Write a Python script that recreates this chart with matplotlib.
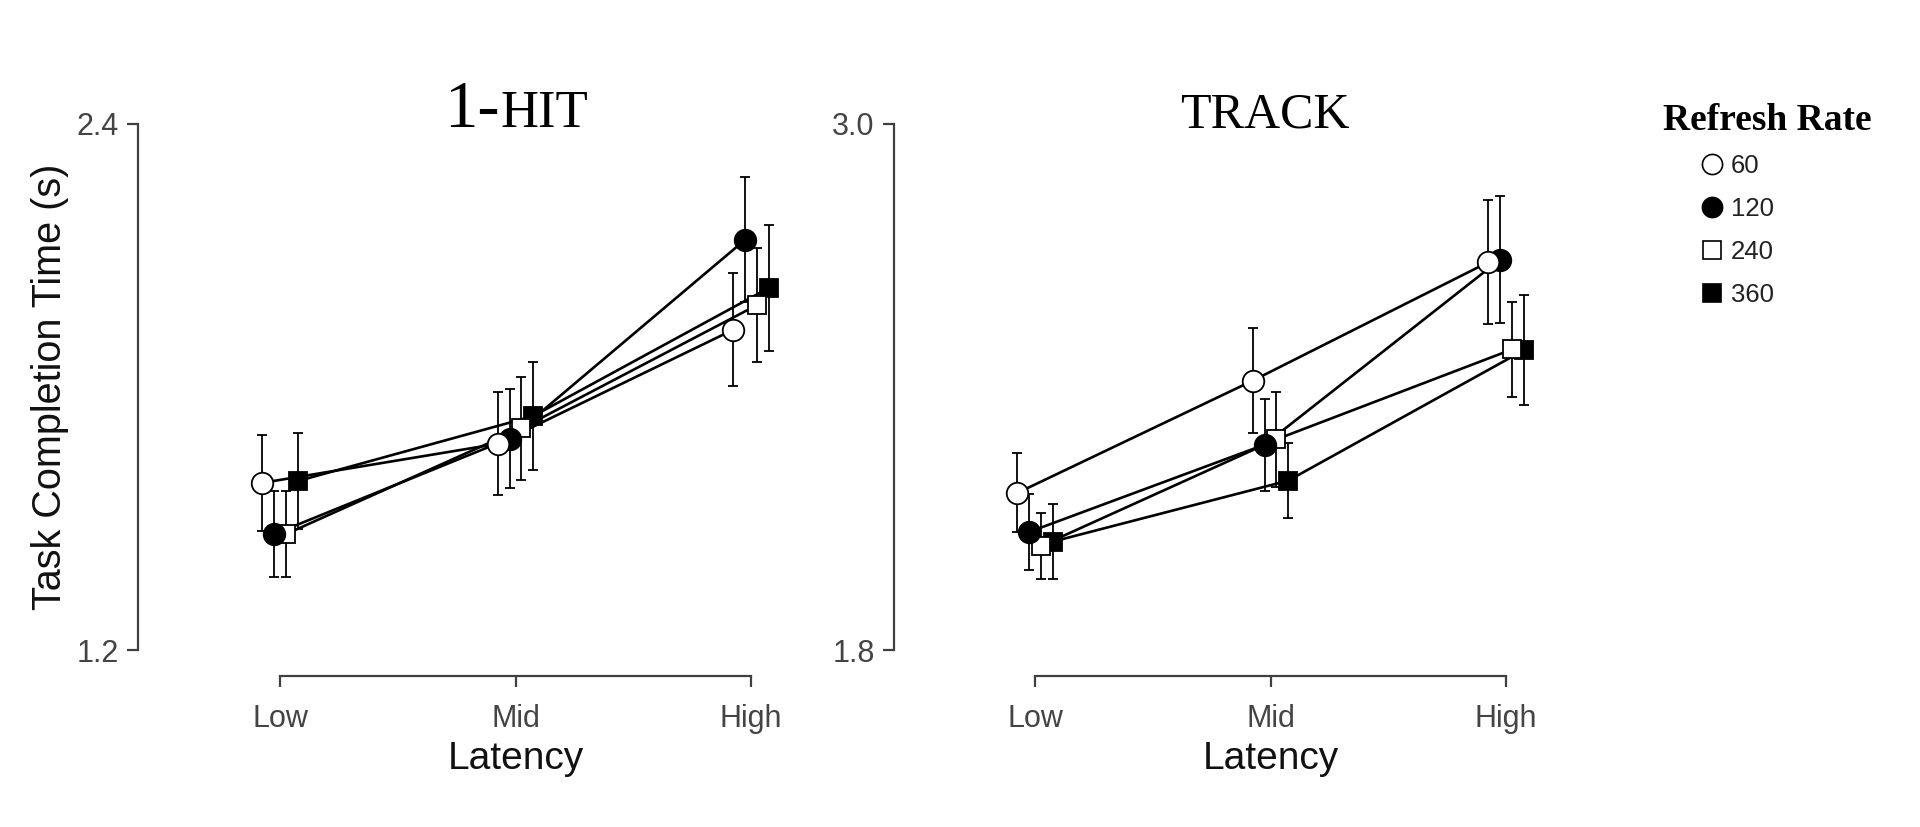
import matplotlib
matplotlib.use("Agg")
import matplotlib.pyplot as plt
from matplotlib import transforms
from matplotlib.lines import Line2D

plt.rcParams['font.family'] = ['Liberation Sans', 'DejaVu Sans']

# datos
latencia = ["Low", "Mid", "High"]
tasas = ["60", "120", "240", "360"]

# 1-HIT: medias y semiancho del intervalo
hit_60 = [1.581, 1.670, 1.930]
hit_120 = [1.464, 1.682, 2.135]
hit_240 = [1.464, 1.705, 1.986]
hit_360 = [1.585, 1.733, 2.025]
hit_err_60 = [0.109, 0.117, 0.129]
hit_err_120 = [0.098, 0.112, 0.142]
hit_err_240 = [0.098, 0.117, 0.130]
hit_err_360 = [0.110, 0.123, 0.143]

# TRACK
track_60 = [2.158, 2.414, 2.684]
track_120 = [2.069, 2.268, 2.690]
track_240 = [2.037, 2.280, 2.485]
track_360 = [2.047, 2.186, 2.483]
track_err_60 = [0.090, 0.120, 0.142]
track_err_120 = [0.086, 0.105, 0.145]
track_err_240 = [0.076, 0.109, 0.108]
track_err_360 = [0.085, 0.086, 0.125]

# estilos por tasa de refresco
marcadores = ['o', 'o', 's', 's']
rellenos = ['white', 'black', 'white', 'black']
tamanos = [15.5, 15.5, 13.5, 13.5]
desplaz = [-0.075, -0.025, 0.025, 0.075]

gris = "#404040"
W, H = 1920, 827

fig = plt.figure(figsize=(19.2, 8.27), dpi=100)
fig.patch.set_facecolor("white")


def crear_eje(x_eje, x_low, y_min, y_max):
    # ejes al estilo R: lineas solo sobre el rango de ticks
    x_der = x_eje + 680
    ax = fig.add_axes([x_eje / W, 1 - 676 / H, (x_der - x_eje) / W, (676 - 95) / H])
    px_x = 235.5
    ax.set_xlim(-(x_low - x_eje) / px_x, (x_der - x_low) / px_x)
    px_y = (650 - 123.5) / (y_max - y_min)
    ax.set_ylim(y_min - (676 - 650) / px_y, y_max + (123.5 - 95) / px_y)
    ax.set_facecolor("none")
    for s in ['top', 'right']:
        ax.spines[s].set_visible(False)
    for s in ['left', 'bottom']:
        ax.spines[s].set_color(gris)
        ax.spines[s].set_linewidth(1.6)
    ax.spines['left'].set_bounds(y_min, y_max)
    ax.spines['bottom'].set_bounds(0, 2)
    ax.set_yticks([y_min, y_max])
    ax.set_yticklabels([f"{y_min:.1f}", f"{y_max:.1f}"])
    ax.set_xticks(range(len(latencia)))
    ax.set_xticklabels(latencia)
    ax.tick_params(colors=gris, labelcolor="#444444", labelsize=22,
                   length=8, width=1.6, pad=6)
    ax.tick_params(axis='x', pad=12)
    # etiqueta del eje x centrada en "Mid"
    tr = transforms.blended_transform_factory(ax.transData, fig.transFigure)
    ax.text(1, 1 - 759 / H, "Latency", transform=tr, ha='center', va='center',
            fontsize=28, color="#111111")
    return ax


def dibujar(ax, medias, errores):
    x = range(len(latencia))
    for k in reversed(range(len(tasas))):
        xs = [i + desplaz[k] for i in x]
        ax.errorbar(xs, medias[k], yerr=errores[k], fmt='none', ecolor='black',
                    elinewidth=1.3, capsize=3.6, capthick=1.3, zorder=2)
        ax.plot(xs, medias[k], color='black', lw=1.9, zorder=3)
        ax.plot(xs, medias[k], ls='none', marker=marcadores[k], ms=tamanos[k],
                mfc=rellenos[k], mec='black', mew=1.3, zorder=4 + (3 - k) * 0.1)


ax1 = crear_eje(138, 280, 1.2, 2.4)
dibujar(ax1, [hit_60, hit_120, hit_240, hit_360],
        [hit_err_60, hit_err_120, hit_err_240, hit_err_360])

ax2 = crear_eje(894, 1035, 1.8, 3.0)
dibujar(ax2, [track_60, track_120, track_240, track_360],
        [track_err_60, track_err_120, track_err_240, track_err_360])

# titulos en versalitas (simuladas)
serif = ['Liberation Serif', 'DejaVu Serif']
tr1 = transforms.blended_transform_factory(ax1.transData, fig.transFigure)
x_corte = (500 - 280) / 235.5
ax1.text(x_corte, 1 - 127 / H, "1-", transform=tr1, ha='right', va='baseline',
         fontsize=48, family=serif, color='black')
ax1.text(x_corte, 1 - 127 / H, "HIT", transform=tr1, ha='left', va='baseline',
         fontsize=38, family=serif, color='black')
tr2 = transforms.blended_transform_factory(ax2.transData, fig.transFigure)
ax2.text((1265 - 1035) / 235.5, 1 - 127 / H, "TRACK", transform=tr2, ha='center',
         va='baseline', fontsize=36, family=serif, color='black')

fig.text(50 / W, 1 - 387 / H, "Task Completion Time (s)", rotation=90,
         ha='center', va='center', fontsize=28.5, color="#111111")

# leyenda
handles = [Line2D([], [], ls='none', marker=marcadores[k], ms=tamanos[k] - 1,
                  mfc=rellenos[k], mec='black', mew=1.2) for k in range(len(tasas))]
fig.text(1767 / W, 1 - 121 / H, "Refresh Rate", ha='center', va='center',
         fontsize=27, fontweight='bold', family=serif, color='black')
fig.legend(handles, tasas, loc='upper left', bbox_to_anchor=(1699 / W, 1 - 154 / H),
           frameon=False, fontsize=18.5, handlelength=1.0, handletextpad=0.25,
           labelspacing=0.74, borderpad=0, borderaxespad=0, labelcolor="#222222")

fig.savefig("out.png", dpi=100, facecolor="white")
